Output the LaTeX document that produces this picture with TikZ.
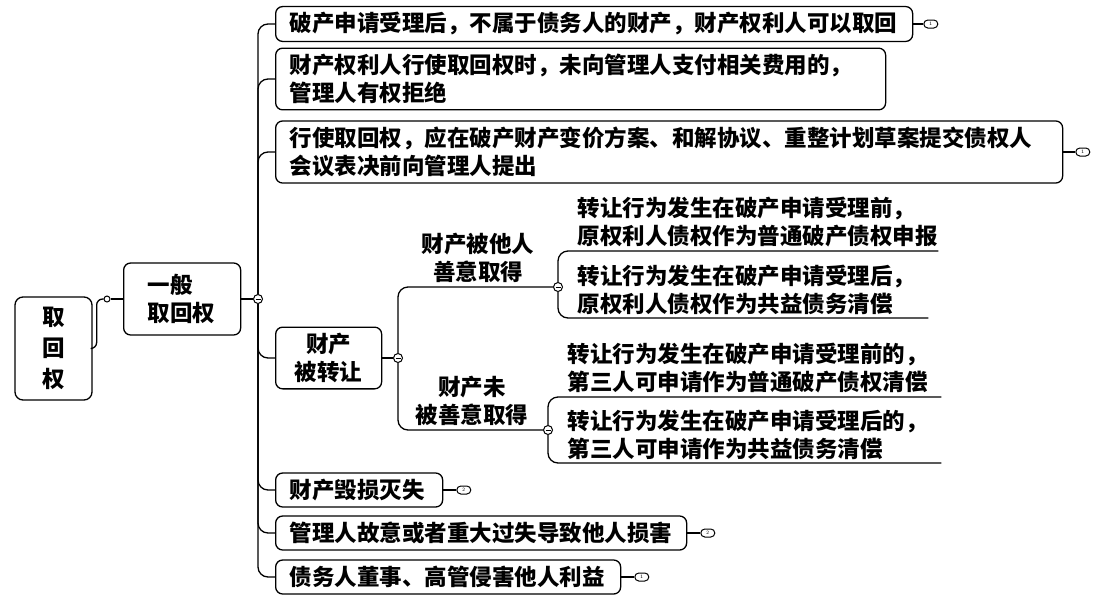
\documentclass[tikz,border=0pt]{standalone}
\usepackage{fontspec}
\newfontfamily\cjk{Noto Sans CJK SC}
\usetikzlibrary{positioning}
\begin{document}
\begin{tikzpicture}[x=1pt,y=-1pt,line width=1.3pt,
    every node/.style={font=\cjk\bfseries\fontsize{22.5}{28}\selectfont},
    box/.style={draw,rounded corners=7pt,inner xsep=14pt,inner ysep=6pt,minimum height=34pt,align=left,anchor=west},
    leaf/.style={inner xsep=0pt,inner ysep=3pt,align=left,anchor=south west},
    lbl/.style={inner sep=2pt,align=center,anchor=south},
    hub/.style={draw,circle,fill=white,inner sep=0pt,minimum size=9pt,line width=1pt,
      path picture={\draw[line width=1pt] ([xshift=-2.5pt]path picture bounding box.center) -- ([xshift=2.5pt]path picture bounding box.center);}},
    dot/.style={draw,circle,fill=white,inner sep=0pt,minimum size=6pt,line width=1pt},
    note/.style={draw,rounded corners=4pt,minimum width=14pt,minimum height=8pt,inner sep=0pt,line width=1pt,font=\sffamily\fontsize{5}{5}\selectfont}]
  \useasboundingbox (0,0) rectangle (1095,595);

  \def\trunk{258}
  \def\hubrow{299}

  \node[draw,rounded corners=8pt,minimum width=77pt,minimum height=103pt,align=center,
    font=\cjk\bfseries\fontsize{22.5}{31}\selectfont] (root) at (53.5,348.5) {取\\回\\权};
  \node[dot] (knot) at (107,\hubrow) {};
  \node[box,inner xsep=24pt,text width=69pt,minimum height=72pt] (general) at (123,\hubrow) {一般\\取回权};
  \node[hub] (hubA) at (\trunk,\hubrow) {};

  \node[box,text width=609pt] (b1) at (275,24) {破产申请受理后，不属于债务人的财产，财产权利人可以取回};
  \node[box,text width=582pt] (b2) at (275,79) {财产权利人行使取回权时，未向管理人支付相关费用的，\\管理人有权拒绝};
  \node[box,text width=759pt] (b3) at (275,152) {行使取回权，应在破产财产变价方案、和解协议、重整计划草案提交债权人\\会议表决前向管理人提出};
  \node[box,text width=78pt,align=center] (b4) at (275,358) {财产\\被转让};
  \node[box,text width=139pt] (b5) at (275,490) {财产毁损灭失};
  \node[box,text width=383pt] (b6) at (275,533) {管理人故意或者重大过失导致他人损害};
  \node[box,text width=317pt] (b7) at (275,577) {债务人董事、高管侵害他人利益};

  \node[hub] (hubB) at (398,358) {};
  \node[hub] (hubC) at (558,287) {};
  \node[hub] (hubD) at (548,430) {};
  \node[lbl] (goodfaith) at (478,285) {财产被他人\\善意取得};
  \node[lbl] (nogoodfaith) at (472,428) {财产未\\被善意取得};

  \node[leaf,text width=360pt] (a1) at (577,251) {转让行为发生在破产申请受理前，\\原权利人债权作为普通破产债权申报};
  \node[leaf,text width=350pt] (a2) at (577,318) {转让行为发生在破产申请受理后，\\原权利人债权作为共益债务清偿};
  \node[leaf,text width=373pt] (c1) at (567,397) {转让行为发生在破产申请受理前的，\\第三人可申请作为普通破产债权清偿};
  \node[leaf,text width=373pt] (c2) at (567,463) {转让行为发生在破产申请受理后的，\\第三人可申请作为共益债务清偿};

  \node[note,right=10pt of b1] (n1) {1};
  \node[note,right=12pt of b3] (n3) {1};
  \node[note,right=13pt of b5] (n5) {2};
  \node[note,right=13pt of b6] (n6) {2};
  \node[note,right=13pt of b7] (n7) {1};

  \draw[rounded corners=6pt] (root.east) -- ++(4,0) |- (knot);
  \draw (knot) -- (general);
  \draw (general) -- (hubA);
  \foreach \b in {b1,b2,b3,b4,b5,b6,b7} {
    \draw[rounded corners=10pt] (hubA) |- (\b.west);
  }
  \foreach \b in {1,3,5,6,7} {
    \draw (b\b) -- (n\b);
  }

  \draw (b4) -- (hubB);
  \draw[rounded corners=10pt] (hubB) |- (hubC);
  \draw[rounded corners=10pt] (hubB) |- (hubD);
  \draw[rounded corners=10pt] (hubC) |- (a1.south east);
  \draw[rounded corners=10pt] (hubC) |- (a2.south east);
  \draw[rounded corners=10pt] (hubD) |- (c1.south east);
  \draw[rounded corners=10pt] (hubD) |- (c2.south east);
\end{tikzpicture}
\end{document}
